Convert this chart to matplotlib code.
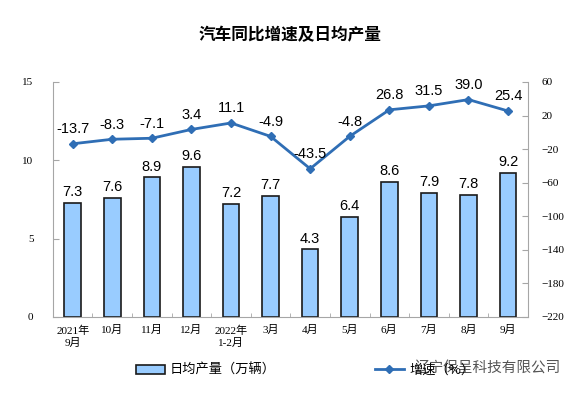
import matplotlib
matplotlib.use("Agg")
import matplotlib.pyplot as plt
import numpy as np

plt.rcParams['font.family'] = ['Liberation Serif', 'Noto Sans CJK SC']

# 数据
meses = ["2021年\n9月", "10月", "11月", "12月", "2022年\n1-2月", "3月",
         "4月", "5月", "6月", "7月", "8月", "9月"]
produccion = [7.3, 7.6, 8.9, 9.6, 7.2, 7.7, 4.3, 6.4, 8.6, 7.9, 7.8, 9.2]
crecimiento = [-13.7, -8.3, -7.1, 3.4, 11.1, -4.9, -43.5, -4.8, 26.8, 31.5, 39.0, 25.4]

gris = "#A6A6A6"
azul_barra = "#99CCFF"
azul_linea = "#2F6EB5"

fig = plt.figure(figsize=(5.75, 3.96), dpi=100)
ax = fig.add_axes([0.092, 0.2, 0.826, 0.593])
x = np.arange(len(meses))

barras = ax.bar(x, produccion, width=0.42, color=azul_barra, edgecolor="#1a1a1a",
                linewidth=1.2, label="日均产量（万辆）", zorder=2)
for xi, v in zip(x, produccion):
    ax.text(xi, v + 0.25, f"{v:.1f}", ha="center", va="bottom", fontsize=10.5,
            family=["Liberation Sans"])

ax.set_xlim(-0.5, len(meses) - 0.5)
ax.set_ylim(0, 15)
ax.set_yticks([0, 5, 10, 15])
ax.set_xticks(x)
ax.set_xticklabels(meses, fontsize=8, family=["Liberation Serif", "Noto Sans CJK SC"],
                   linespacing=1.3)
ax.set_xticks(np.arange(-0.5, len(meses), 1), minor=True)
ax.tick_params(axis="x", which="major", length=0, pad=6)
ax.tick_params(axis="x", which="minor", length=3, direction="in", color=gris)
ax.tick_params(axis="y", labelsize=8, length=4, direction="in", color=gris, pad=14)
for lado in ["left", "bottom", "right"]:
    ax.spines[lado].set_color(gris)
ax.spines["top"].set_visible(False)

ax2 = ax.twinx()
linea, = ax2.plot(x, crecimiento, color=azul_linea, linewidth=2, marker="D",
                  markersize=4, label="增速（%）", zorder=3)
for xi, v in zip(x, crecimiento):
    ax2.text(xi, v + 9, f"{v:.1f}", ha="center", va="bottom", fontsize=10.5,
             family=["Liberation Sans"])
ax2.set_ylim(-220, 60)
ax2.set_yticks(np.arange(-220, 61, 40))
ax2.tick_params(axis="y", labelsize=8, length=4, direction="in", color=gris, pad=10)
for lado in ["left", "bottom", "right", "top"]:
    ax2.spines[lado].set_visible(False)

fig.suptitle("汽车同比增速及日均产量", x=0.505, y=0.935, fontsize=12,
             family=["Noto Sans CJK SC"], fontweight="bold")

fig.legend([barras, linea], ["日均产量（万辆）", "增速（%）"], loc="center left",
           bbox_to_anchor=(0.215, 0.065), ncol=2, frameon=False, columnspacing=7.5,
           handlelength=2.2, handletextpad=0.4,
           prop={"family": "Noto Sans CJK SC", "size": 9.5})

fig.text(0.976, 0.07, "辽宁保呈科技有限公司", ha="right", va="center", fontsize=10.5,
         color="#555555", family=["Noto Sans CJK SC"],
         bbox=dict(facecolor="white", edgecolor="none", alpha=0.85, pad=1))

fig.savefig("out.png", dpi=100)
